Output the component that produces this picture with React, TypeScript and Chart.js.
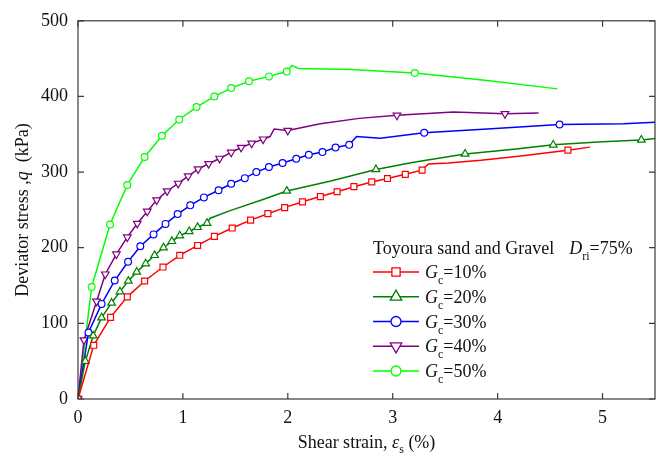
import React, { useEffect, useRef } from 'react';
import { Chart, registerables } from 'chart.js';
import { drawPoint } from 'chart.js/helpers';

Chart.register(...registerables);

// ---------- data ----------
const xTicks = [0, 1, 2, 3, 4, 5];
const yTicks = [0, 100, 200, 300, 400, 500];

const legendTitle = 'Toyoura sand and Gravel';
const densityValue = '=75%';
const gcValues = ['10%', '20%', '30%', '40%', '50%'];

// Gc = 10%
const strain10 = [0, 0.15, 0.31, 0.47, 0.635, 0.81, 0.97, 1.14, 1.3, 1.47, 1.645, 1.81, 1.97, 2.14, 2.31, 2.47, 2.63, 2.8, 2.95, 3.12, 3.28, 3.34, 3.53, 3.84, 4.2, 4.67, 4.88];
const stress10 = [0, 71, 108, 135, 156, 174.5, 190, 203, 215, 226, 236.5, 245, 253, 260.7, 267.6, 274, 280.7, 287, 291.5, 297, 302.5, 310.7, 312, 315.5, 321, 329, 333];
const marks10 = [0, 1, 2, 3, 4, 5, 6, 7, 8, 9, 10, 11, 12, 13, 14, 15, 16, 17, 18, 19, 20, 25];

// Gc = 20%
const strain20 = [0, 0.07, 0.145, 0.225, 0.32, 0.4, 0.48, 0.56, 0.645, 0.73, 0.815, 0.895, 0.97, 1.06, 1.14, 1.23, 1.26, 1.45, 1.77, 1.99, 2.4, 2.84, 3.2, 3.69, 4.2, 4.53, 5.0, 5.37, 5.55];
const stress20 = [0, 50, 83.6, 107.5, 127, 142, 156, 168, 179, 190, 200, 208.5, 216, 221.5, 227, 232.5, 239, 249, 264, 275, 288, 303.5, 313, 324, 331, 336, 340, 342.5, 345];
const marks20 = [0, 1, 2, 3, 4, 5, 6, 7, 8, 9, 10, 11, 12, 13, 14, 15, 19, 21, 23, 25, 27];

// Gc = 30%
const strain30 = [0, 0.1, 0.225, 0.35, 0.477, 0.594, 0.72, 0.834, 0.95, 1.07, 1.2, 1.34, 1.46, 1.59, 1.7, 1.82, 1.95, 2.08, 2.2, 2.33, 2.455, 2.585, 2.655, 2.88, 3.3, 3.9, 4.59, 5.2, 5.55];
const stress30 = [0, 88, 125.7, 156.6, 181.5, 202, 217.6, 231.5, 244.5, 256, 266.5, 276, 284.5, 292, 300, 306.8, 312, 317.6, 323, 326.4, 332.5, 336, 347, 344.6, 352, 357, 363, 364, 366];
const marks30 = [0, 1, 2, 3, 4, 5, 6, 7, 8, 9, 10, 11, 12, 13, 14, 15, 16, 17, 18, 19, 20, 21, 24, 26];

// Gc = 40%
const strain40 = [0, 0.057, 0.177, 0.26, 0.366, 0.47, 0.565, 0.66, 0.75, 0.85, 0.955, 1.05, 1.145, 1.245, 1.35, 1.46, 1.555, 1.655, 1.765, 1.83, 1.87, 2.0, 2.31, 2.68, 3.04, 3.58, 4.07, 4.39];
const stress40 = [0, 78, 129, 165, 191.5, 214, 232, 248, 263, 275, 285, 294.6, 304, 311, 318, 326, 332.5, 338, 343.5, 347, 357, 355, 364, 371, 375, 379.5, 377, 378];
const marks40 = [0, 1, 2, 3, 4, 5, 6, 7, 8, 9, 10, 11, 12, 13, 14, 15, 16, 17, 18, 21, 24, 26];

// Gc = 50%
const strain50 = [0, 0.13, 0.305, 0.47, 0.635, 0.8, 0.965, 1.13, 1.3, 1.46, 1.63, 1.82, 1.99, 2.04, 2.1, 2.6, 3.21, 3.9, 4.57];
const stress50 = [0, 148, 230.6, 283, 320, 348, 369.5, 386, 400, 411, 420, 426.5, 433, 441, 437, 435.5, 431, 421, 410];
const marks50 = [0, 1, 2, 3, 4, 5, 6, 7, 8, 9, 10, 11, 12, 16];

// ---------- styles ----------
const FONT = '"Liberation Serif", "Times New Roman", serif';
const colors = ['#ff0000', '#008000', '#0000ff', '#800080', '#00ff00'];
const pointStyles = ['rect', 'triangle', 'circle', 'triangle', 'circle'];
const rotations = [0, 0, 0, 180, 0];
const plotRadius = [4.2, 4.4, 3.4, 4.4, 3.4];
const legendRadius = [5.8, 6.6, 5, 6.6, 5];

const seriesData = [
  { x: strain10, y: stress10, marks: marks10 },
  { x: strain20, y: stress20, marks: marks20 },
  { x: strain30, y: stress30, marks: marks30 },
  { x: strain40, y: stress40, marks: marks40 },
  { x: strain50, y: stress50, marks: marks50 },
];

type Seg = { t: string; font: string; dy?: number };

function segWidth(ctx: CanvasRenderingContext2D, segs: Seg[]) {
  let w = 0;
  for (const s of segs) {
    ctx.font = s.font;
    w += ctx.measureText(s.t).width;
  }
  return w;
}

function drawSegs(ctx: CanvasRenderingContext2D, segs: Seg[], x: number, y: number) {
  let cx = x;
  for (const s of segs) {
    ctx.font = s.font;
    ctx.fillText(s.t, cx, y + (s.dy || 0));
    cx += ctx.measureText(s.t).width;
  }
  return cx;
}

const normal = `18px ${FONT}`;
const italic = `italic 18px ${FONT}`;
const sub = `12px ${FONT}`;

const decorPlugin = {
  id: 'decor',
  afterDraw(chart: any) {
    const ctx: CanvasRenderingContext2D = chart.ctx;
    const { left, right, top, bottom } = chart.chartArea;
    const xs = chart.scales.x;
    const ys = chart.scales.y;
    ctx.save();
    // frame
    ctx.strokeStyle = '#3a3a3a';
    ctx.lineWidth = 1.2;
    ctx.strokeRect(left, top, right - left, bottom - top);
    // inward ticks
    const tl = 6;
    ctx.beginPath();
    for (const v of xTicks) {
      const px = xs.getPixelForValue(v);
      ctx.moveTo(px, bottom);
      ctx.lineTo(px, bottom - tl);
      ctx.moveTo(px, top);
      ctx.lineTo(px, top + tl);
    }
    for (const v of yTicks) {
      const py = ys.getPixelForValue(v);
      ctx.moveTo(left, py);
      ctx.lineTo(left + tl, py);
      ctx.moveTo(right, py);
      ctx.lineTo(right - tl, py);
    }
    ctx.stroke();

    ctx.fillStyle = '#111';
    ctx.textBaseline = 'alphabetic';
    ctx.textAlign = 'left';

    // x axis title
    const xSegs: Seg[] = [
      { t: 'Shear strain, ', font: normal },
      { t: 'ε', font: italic },
      { t: 's', font: sub, dy: 5 },
      { t: ' (%)', font: normal },
    ];
    const xw = segWidth(ctx, xSegs);
    drawSegs(ctx, xSegs, (left + right) / 2 - xw / 2, 448);

    // y axis title
    const ySegs: Seg[] = [
      { t: 'Deviator stress ,', font: normal },
      { t: 'q', font: italic },
      { t: '  (kPa)', font: normal },
    ];
    const yw = segWidth(ctx, ySegs);
    ctx.save();
    ctx.translate(22, (top + bottom) / 2);
    ctx.rotate(-Math.PI / 2);
    drawSegs(ctx, ySegs, -yw / 2, 6);
    ctx.restore();

    // legend
    const lx = 373;
    const hdrY = 254;
    let cx = drawSegs(ctx, [{ t: legendTitle, font: normal }], lx, hdrY);
    cx += 15;
    drawSegs(ctx, [
      { t: 'D', font: italic },
      { t: 'ri', font: sub, dy: 6 },
      { t: densityValue, font: normal },
    ], cx, hdrY);

    gcValues.forEach((val, i) => {
      const my = 272 + i * 24.75;
      ctx.strokeStyle = colors[i];
      ctx.lineWidth = 1.5;
      ctx.beginPath();
      ctx.moveTo(lx, my);
      ctx.lineTo(419, my);
      ctx.stroke();
      ctx.fillStyle = '#fff';
      ctx.lineWidth = 1.3;
      drawPoint(ctx, { pointStyle: pointStyles[i], rotation: rotations[i], radius: legendRadius[i], borderWidth: 1.3 } as any, 396, my);
      ctx.fillStyle = '#111';
      drawSegs(ctx, [
        { t: 'G', font: italic },
        { t: 'c', font: sub, dy: 6 },
        { t: '=' + val, font: normal },
      ], 425, my + 6);
    });
    ctx.restore();
  },
};

export default function App() {
  const ref = useRef<HTMLCanvasElement | null>(null);

  useEffect(() => {
    if (!ref.current) return;
    const datasets = seriesData.map((s, i) => ({
      label: 'Gc=' + gcValues[i],
      data: s.x.map((x, j) => ({ x, y: s.y[j] })),
      showLine: true,
      borderColor: colors[i],
      borderWidth: 1.5,
      backgroundColor: '#ffffff',
      pointBackgroundColor: '#ffffff',
      pointBorderColor: colors[i],
      pointBorderWidth: 1.2,
      pointStyle: pointStyles[i],
      pointRotation: rotations[i],
      pointRadius: (c: any) => (s.marks.includes(c.dataIndex) ? plotRadius[i] : 0),
      pointHoverRadius: 0,
      tension: 0,
    }));

    const chart = new Chart(ref.current, {
      type: 'scatter',
      data: { datasets },
      options: {
        responsive: false,
        animation: false,
        devicePixelRatio: 1,
        events: [],
        layout: { padding: { top: 16, right: 7, left: 0, bottom: 0 } },
        plugins: { legend: { display: false }, tooltip: { enabled: false } },
        scales: {
          x: {
            type: 'linear',
            min: 0,
            max: 5.5,
            grid: { display: false, drawTicks: false },
            border: { display: false },
            ticks: { color: '#111', padding: 8, maxRotation: 0, font: { family: FONT, size: 18 } },
            afterBuildTicks: (sc: any) => { sc.ticks = xTicks.map((v) => ({ value: v })); },
            afterFit: (sc: any) => { sc.height = 58; },
          },
          y: {
            type: 'linear',
            min: 0,
            max: 500,
            grid: { display: false, drawTicks: false },
            border: { display: false },
            ticks: { color: '#111', padding: 10, font: { family: FONT, size: 18 } },
            afterBuildTicks: (sc: any) => { sc.ticks = yTicks.map((v) => ({ value: v })); },
            afterFit: (sc: any) => { sc.width = 78; },
          },
        },
      } as any,
      plugins: [decorPlugin],
    });
    return () => chart.destroy();
  }, []);

  return (
    <div style={{ position: 'fixed', left: 0, top: 0, width: 662, height: 457, background: '#fff' }}>
      <canvas ref={ref} width={662} height={457} style={{ display: 'block', width: 662, height: 457 }} />
    </div>
  );
}
